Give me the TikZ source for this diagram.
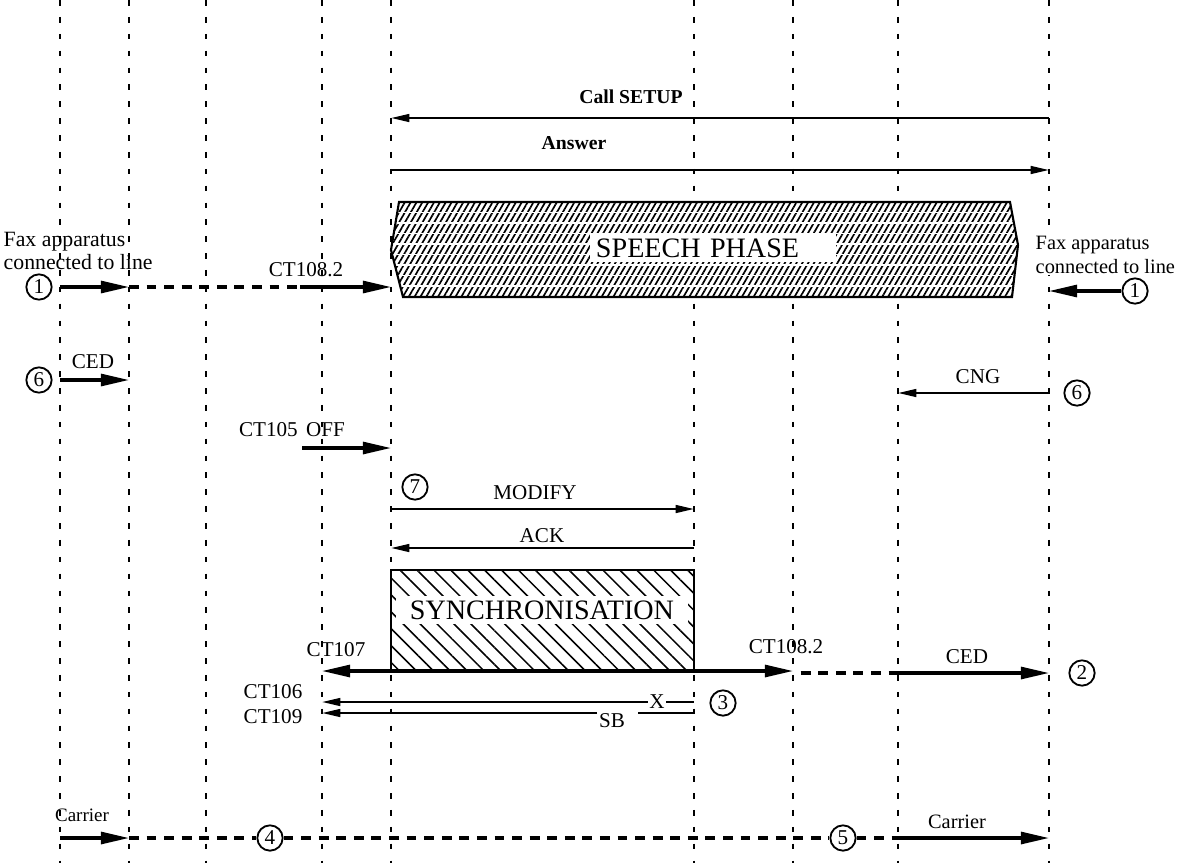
\documentclass[tikz,border=0pt]{standalone}
\usepackage{fontspec}
\setmainfont{Liberation Serif}
\usetikzlibrary{arrows.meta,patterns.meta,positioning}
\tikzset{
  lifeline/.style={line width=0.9pt, dash pattern=on 4pt off 8pt},
  sig/.style={line width=2.2pt, -{Triangle[length=20pt,width=8.5pt]}},
  msg/.style={line width=1.5pt, -{Triangle[length=13pt,width=5.5pt]}},
  gap/.style={line width=2.2pt, dash pattern=on 7pt off 5.5pt},
  num/.style={circle, draw, fill=white, line width=1.3pt, inner sep=0pt, minimum size=18pt, font=\fontsize{15}{15}\selectfont},
  lbl/.style={font=\fontsize{15}{16}\selectfont, inner sep=1pt},
  phase/.style={font=\fontsize{20}{22}\selectfont, fill=white, inner xsep=4pt, inner ysep=3pt, text height=14pt, text depth=0pt}
}
\begin{document}
\begin{tikzpicture}[x=0.025cm,y=-0.025cm]
\useasboundingbox (0,0) rectangle (1195,863);
\foreach \n/\x in {1/60,2/129,3/206,4/322,5/391,6/694,7/793,8/898,9/1049}{
  \coordinate (L\n) at (\x,0);
  \draw[lifeline] (L\n) -- (\x,863);
}
\begin{scope}
\clip (399,202) -- (1010,202) -- (1018,245) -- (1012,297) -- (403,297) -- (391,250) -- cycle;
\fill[white] (380,190) rectangle (1030,310);
\fill[pattern={Lines[angle=60,distance=3.6pt,line width=1.2pt]}] (380,190) rectangle (1030,310);
\foreach \y in {212.5,223,...,287}
  \draw[white, line width=1.3pt] (380,\y) -- (1030,\y);
\end{scope}
\draw[line width=1.5pt] (399,202) -- (1010,202) -- (1018,245) -- (1012,297) -- (403,297) -- (391,250) -- cycle;
\node[phase, text width=5.85cm, align=left] (speech) at (713,248) {SPEECH PHASE};
\draw[line width=1.3pt, preaction={fill=white}, pattern={Lines[angle=-45,distance=8.5pt,line width=1.1pt]}] (L5 |- 0,570) rectangle (L6 |- 0,671);
\node[phase, minimum width=7.3cm] (sync) at (542,610) {SYNCHRONISATION};

\node[lbl, font=\bfseries\fontsize{14}{16}\selectfont] (setup) at (631,97) {Call SETUP};
\node[lbl, font=\bfseries\fontsize{14}{16}\selectfont] (answer) at (574,143) {Answer};
\node[lbl, align=left, anchor=west, font=\fontsize{15.5}{16}\selectfont] (faxL) at (2,251) {Fax apparatus\\connected to line};
\node[lbl, fill=white, align=left, anchor=west, font=\fontsize{14.5}{16.5}\selectfont] (faxR) at (1034,255) {Fax apparatus\\connected to line};

\node[num] (c1L) at (39,287) {1};
\node[num] (c1R) at (1135,291) {1};
\node[num] (c6L) at (39,380) {6};
\node[num] (c6R) at (1077,393) {6};
\node[num] (c7) at (415,487) {7};
\node[num] (c3) at (723,703) {3};
\node[num] (c2) at (1082,673) {2};
\node[num] (c4) at (270,838) {4};
\node[num] (c5) at (843,838) {5};

\node[lbl] (ct108a) at (306,270) {CT108.2};
\node[lbl] (cedL) at (93,362) {CED};
\node[lbl] (cng) at (978,377) {CNG};
\node[lbl] (ct105) at (292,430) {CT105\hspace{0.4em}OFF};
\node[lbl] (modify) at (535,493) {MODIFY};
\node[lbl] (ack) at (542,536) {ACK};
\node[lbl] (ct107) at (336,650) {CT107};
\node[lbl] (ct108b) at (786,647) {CT108.2};
\node[lbl] (cedR) at (967,657) {CED};
\node[lbl] (ct106) at (273,692) {CT106};
\node[lbl] (ct109) at (273,717) {CT109};
\node[lbl] (x) at (657,702) {X};
\node[lbl] (sb) at (612,721) {SB};
\node[lbl, font=\fontsize{13.5}{15}\selectfont] (carL) at (82,815) {Carrier};
\node[lbl, font=\fontsize{14.5}{16}\selectfont] (carR) at (957,822) {Carrier};

\coordinate (k108) at (300,287);
\coordinate (k105) at (302,448);
\coordinate (sbl) at (597,713);
\coordinate (sbr) at (638,713);

\draw[msg] (L9 |- 0,118) -- (L5 |- 0,118);
\draw[msg] (L5 |- 0,170) -- (L9 |- 0,170);
\draw[sig] (c1L -| L1) -- (c1L -| L2);
\draw[gap] (c1L -| L2) -- (k108);
\draw[sig] (k108) -- (c1L -| L5);
\draw[sig] (c1R.west) -- (c1R -| L9);
\draw[sig] (c6L -| L1) -- (c6L -| L2);
\draw[msg] (c6R -| L9) -- (c6R -| L8);
\draw[sig] (k105) -- (k105 -| L5);
\draw[msg] (L5 |- 0,509) -- (L6 |- 0,509);
\draw[msg] (L6 |- 0,548) -- (L5 |- 0,548);
\draw[sig] (L6 |- 0,671) -- (L4 |- 0,671);
\draw[sig] (L6 |- 0,671) -- (L7 |- 0,671);
\draw[gap, dash phase=7pt] (c2 -| L7) -- (c2 -| L8);
\draw[sig] (c2 -| L8) -- (c2 -| L9);
\draw[msg] (x.west) -- (L4 |- x);
\draw[line width=1.5pt] (x.east) -- (L6 |- x);
\draw[msg] (sbl) -- (sbl -| L4);
\draw[line width=1.5pt] (sbr) -- (sbr -| L6);
\draw[sig] (L1 |- c4) -- (L2 |- c4);
\draw[gap] (L2 |- c4) -- (c4);
\draw[gap] (c4) -- (c5);
\draw[gap] (c5) -- (c5 -| L8);
\draw[sig] (c5 -| L8) -- (c5 -| L9);
\end{tikzpicture}
\end{document}
